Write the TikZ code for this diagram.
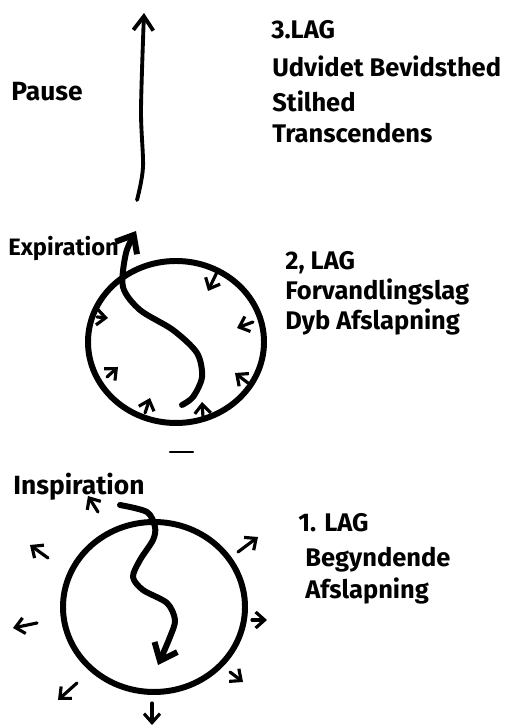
\documentclass[tikz,border=0pt]{standalone}
\usepackage{fontspec}
\setmainfont{Fira Sans}
\usetikzlibrary{arrows.meta}

\begin{document}
\begin{tikzpicture}[line cap=round, line join=round,
  lagtext/.style={anchor=base west, inner sep=0pt, font=\fontsize{14.5}{18}\selectfont\bfseries},
  phase/.style={inner sep=0pt, font=\fontsize{15}{18}\selectfont\bfseries},
  ring/.style={line width=3.4pt},
  flow/.style={line width=3.4pt, -{Straight Barb[length=3mm,width=5mm]}},
  tick/.style={line width=1.8pt, -{Straight Barb[length=1.8mm,width=3.2mm]}}]
\useasboundingbox (0,0) rectangle (10.12,14.56);
% Layer 3: pause, rising arrow
\node[phase] (pause) at (0.94,12.72) {Pause};
\draw[line width=2.2pt, -{Straight Barb[length=2.8mm,width=4mm]}]
  plot[smooth] coordinates {(2.74,10.56) (2.86,11.22) (2.82,12.36) (2.88,14.30)};
\node[lagtext] (lag3) at (5.42,13.78) {3.LAG};
\node[lagtext] (lag3a) at (5.44,13.02) {Udvidet Bevidsthed};
\node[lagtext] (lag3b) at (5.44,12.32) {Stilhed};
\node[lagtext] (lag3c) at (5.44,11.70) {Transcendens};
% Layer 2: expiration, arrows pointing in
\node[phase, anchor=base west, font=\fontsize{13.5}{16}\selectfont\bfseries] (expi) at (0.16,9.44) {Expiration};
\draw[ring] (3.52,7.72) ellipse [x radius=1.76, y radius=1.62];
\draw[flow] plot[smooth] coordinates {(3.64,6.46) (3.86,6.62) (4.04,7.02) (3.94,7.50)
  (3.46,7.96) (2.80,8.36) (2.46,8.82) (2.52,9.50) (2.72,9.94)};
\draw[tick] (4.36,9.16) -- (4.16,8.74);
\draw[tick] (5.06,8.12) -- (4.74,8.00);
\draw[tick] (1.94,8.22) -- (2.16,8.20);
\draw[tick] (2.14,7.02) -- (2.36,7.22);
\draw[tick] (2.90,6.30) -- (3.00,6.60);
\draw[tick] (4.06,6.22) -- (4.04,6.52);
\draw[tick] (4.96,6.90) -- (4.70,7.10);
\node[lagtext] (lag2) at (5.70,9.16) {2, LAG};
\node[lagtext] (lag2a) at (5.70,8.56) {Forvandlingslag};
\node[lagtext] (lag2b) at (5.70,7.96) {Dyb Afslapning};
% Layer 1: inspiration, arrows pointing out
\draw[line width=1.2pt] (3.40,5.52) -- (3.86,5.52);
\node[phase, anchor=base west] (inspi) at (0.26,4.66) {Inspiration};
\draw[ring] (3.08,2.42) ellipse [x radius=1.82, y radius=1.70];
\draw[flow] plot[smooth] coordinates {(2.40,4.46) (2.94,4.32) (3.10,4.02) (3.06,3.76)
  (2.80,3.36) (2.66,3.02) (2.86,2.76) (3.34,2.50) (3.50,2.16) (3.40,1.82) (3.16,1.26)};
\draw[tick] (1.96,4.32) -- (1.76,4.64);
\draw[tick] (0.96,3.40) -- (0.60,3.66);
\draw[tick] (0.74,2.10) -- (0.26,2.00);
\draw[tick] (1.54,0.90) -- (1.16,0.56);
\draw[tick] (3.04,0.50) -- (3.04,0.06);
\draw[tick] (4.60,1.12) -- (4.86,0.92);
\draw[tick] (5.04,2.16) -- (5.34,2.16);
\draw[tick] (4.76,3.52) -- (5.16,3.82);
\node[lagtext] (lag1) at (5.96,3.92) {1. LAG};
\node[lagtext] (lag1a) at (6.10,3.22) {Begyndende};
\node[lagtext] (lag1b) at (6.10,2.58) {Afslapning};
\end{tikzpicture}
\end{document}
